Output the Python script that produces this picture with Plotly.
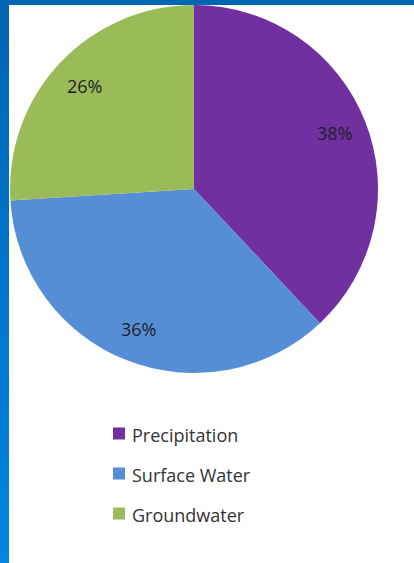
import math
import plotly.graph_objects as go

# Water sources, share in percent
categories = ["Precipitation", "Surface Water", "Groundwater"]
shares = [38, 36, 26]
slice_colors = ["#7030a0", "#558ed5", "#9bbb59"]

W, H = 414, 563
cx, cy, r = 194, 189, 184  # pie centre and radius in pixels


def px(x):
    return x / W


def py(y):
    return 1 - y / H


fig = go.Figure(
    go.Pie(
        labels=categories,
        values=shares,
        sort=False,
        direction="clockwise",
        rotation=0,
        marker=dict(colors=slice_colors, line=dict(width=0)),
        textinfo="none",
        domain=dict(x=[px(cx - r), px(cx + r)], y=[py(cy + r), py(cy - r)]),
        showlegend=False,
        hoverinfo="skip",
    )
)

shapes = []
annotations = []

# Percent labels placed along each slice's mid-angle, towards the rim
total = sum(shares)
start = 0.0
for v in shares:
    mid = (start + v / 2) / total * 2 * math.pi  # clockwise from 12 o'clock
    start += v
    lx = cx + 0.82 * r * math.sin(mid)
    ly = cy - 0.82 * r * math.cos(mid)
    annotations.append(dict(text="%d%%" % round(v / total * 100),
                            xref="paper", yref="paper", x=px(lx), y=py(ly),
                            xanchor="center", yanchor="middle", showarrow=False,
                            font=dict(family="Open Sans", size=18, color="#1e1e2a")))

# Legend: a square swatch and a label per category
leg_x, leg_y0, leg_step, sw = 113, 434, 40, 12
for i, (name, col) in enumerate(zip(categories, slice_colors)):
    yc = leg_y0 + i * leg_step
    shapes.append(dict(type="rect", xref="paper", yref="paper",
                       x0=px(leg_x), x1=px(leg_x + sw),
                       y0=py(yc + sw / 2 - 0.5), y1=py(yc - sw / 2 - 0.5),
                       fillcolor=col, line=dict(width=0)))
    annotations.append(dict(text=name, xref="paper", yref="paper",
                            x=px(leg_x + 17), y=py(yc + 1),
                            xanchor="left", yanchor="middle", showarrow=False,
                            font=dict(family="Open Sans", size=18, color="#333333")))

# Blue frame: vertical gradient strip on the left, solid bar on top
n = 40
band = H / n
top_rgb = (0, 101, 178)
bot_rgb = (0, 133, 226)
for k in range(n):
    t = k / (n - 1)
    c = tuple(round(a + (b - a) * t) for a, b in zip(top_rgb, bot_rgb))
    shapes.append(dict(type="rect", xref="paper", yref="paper", layer="above",
                       x0=0, x1=px(9),
                       y0=py(min(H, band * (k + 1) + 2)), y1=py(band * k),
                       fillcolor="rgb(%d,%d,%d)" % c, line=dict(width=0)))
shapes.append(dict(type="rect", xref="paper", yref="paper", layer="above",
                   x0=0, x1=1, y0=py(5), y1=1,
                   fillcolor="rgb(0,101,178)", line=dict(width=0)))

fig.update_layout(
    width=W, height=H,
    margin=dict(l=0, r=0, t=0, b=0),
    paper_bgcolor="white",
    plot_bgcolor="white",
    shapes=shapes,
    annotations=annotations,
    showlegend=False,
)

fig.write_html("out.html")
